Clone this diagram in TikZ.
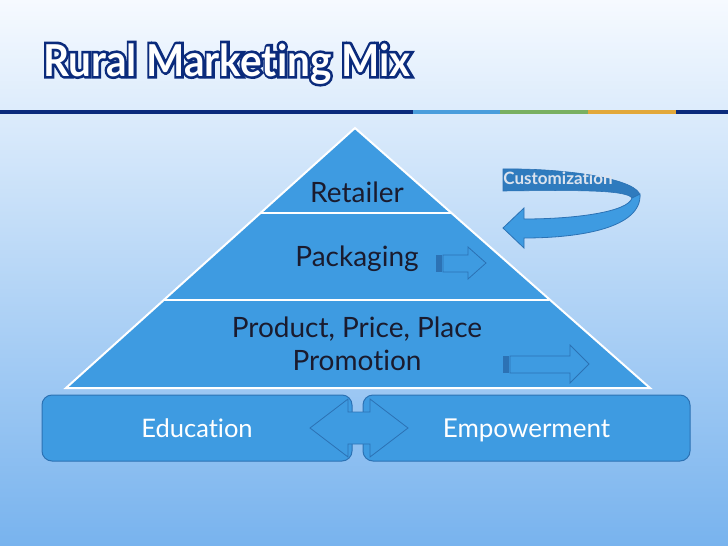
\documentclass[tikz,border=0pt]{standalone}
\usepackage{fontspec}
\setmainfont{Lato}[Ligatures=NoCommon]
\newfontfamily\titlefont{Lato Bold}[Ligatures=NoCommon]
\newfontfamily\titleedge{Lato Bold}[Ligatures=NoCommon,FakeBold=12]
\definecolor{bgtop}{HTML}{F6FAFF}
\definecolor{bgbot}{HTML}{78B3EE}
\definecolor{tierfill}{HTML}{3E9BE1}
\definecolor{edgeblue}{HTML}{2C72B4}
\definecolor{navy}{HTML}{0B2B7C}
\definecolor{barblue}{HTML}{4A9EDC}
\definecolor{bargreen}{HTML}{79B061}
\definecolor{barorange}{HTML}{E2A83A}
\definecolor{inktext}{HTML}{1A1B2E}
\definecolor{bandback}{HTML}{2F7BBE}
\definecolor{custgray}{HTML}{DCE3EE}

\begin{document}
\begin{tikzpicture}[x=1pt,y=-1pt,
  titletext/.style={anchor=base west,inner sep=0pt},
  tier/.style={font=\fontsize{28}{33}\selectfont,text=inktext,align=center},
  pillar/.style={draw=edgeblue,fill=tierfill,rounded corners=10pt,line width=1pt,
    text=white,text height=19pt,text depth=0pt},
  blockarrow/.style={draw=edgeblue,fill=tierfill,line width=0.8pt}]
% background and title bar
\useasboundingbox (0,0) rectangle (728,546);
\shade[top color=bgtop,bottom color=bgbot] (0,0) rectangle (728,546);
\fill[navy] (0,110) rectangle (413,114);
\fill[barblue] (413,110) rectangle (500,114);
\fill[bargreen] (500,110) rectangle (588,114);
\fill[barorange] (588,110) rectangle (676,114);
\fill[navy] (676,110) rectangle (728,114);
% title with dark outline
\node[titletext,text=navy,font=\titleedge\fontsize{44}{48}\selectfont] (titleshadow) at (43,76) {\scalebox{0.92}[1]{Rural Marketing Mix}};
\node[titletext,text=white,font=\titlefont\fontsize{44}{48}\selectfont] (title) at (43,76) {\scalebox{0.92}[1]{Rural Marketing Mix}};

% pyramid
\filldraw[fill=tierfill,draw=white,line width=2pt] (355,128) -- (650,388) -- (66,388) -- cycle;
\draw[white,line width=2pt] (261,213) -- (451,213);
\draw[white,line width=2pt] (164,300) -- (549,300);
\node[tier] (retailer) at (357,192) {Retailer};
\node[tier] (packaging) at (357,259) {Packaging};
\node[tier] (product) at (357,344) {Product, Price, Place\\Promotion};

% striped arrows
\fill[edgeblue] (436,255) rectangle (442,272);
\filldraw[blockarrow] (443,255) -- (468,255) -- (468,247) -- (486,263) -- (468,279) -- (468,272) -- (443,272) -- cycle;
\fill[edgeblue] (503,356) rectangle (509,373);
\filldraw[blockarrow] (510,356) -- (570,356) -- (570,345) -- (589,364) -- (570,383) -- (570,373) -- (510,373) -- cycle;

% curved customization arrow
\filldraw[fill=bandback,draw=edgeblue,line width=0.6pt] (503,169) .. controls (570,168) and (640,180) .. (640,196)
  -- (632,198) .. controls (626,190) and (580,190) .. (503,191) -- cycle;
\filldraw[blockarrow] (640,194) .. controls (642,228) and (580,238) .. (524,238) -- (524,248) -- (503,228)
  -- (524,208) -- (524,219) .. controls (575,219) and (628,212) .. (632,198) -- cycle;
\node[font=\fontsize{17}{20}\bfseries\selectfont,text=custgray] (custom) at (558,178) {Customization};

% base boxes
\node[pillar,font=\fontsize{25.5}{28}\selectfont,minimum width=310pt,minimum height=66pt] (education) at (197,428) {Education};
\node[pillar,font=\fontsize{26}{28}\selectfont,minimum width=327pt,minimum height=66pt] (empower) at (526.5,428) {Empowerment};
\filldraw[blockarrow] (310,428) -- (348,399) -- (348,412) -- (370,412) -- (370,399) -- (408,428)
  -- (370,457) -- (370,444) -- (348,444) -- (348,457) -- cycle;
\end{tikzpicture}
\end{document}
